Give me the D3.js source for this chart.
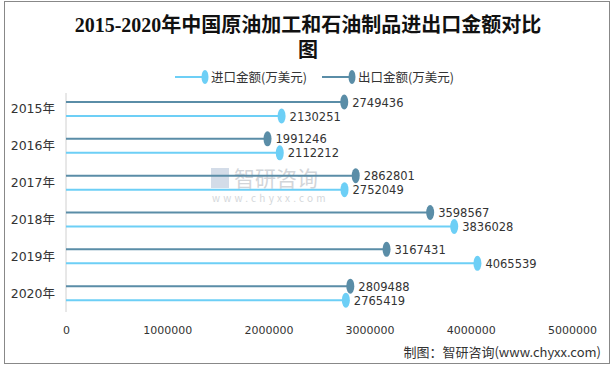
<!DOCTYPE html>
<html>
<head>
<meta charset="utf-8">
<script src="https://cdn.jsdelivr.net/npm/d3@7"></script>
<style>
  body { margin: 0; background: #fff; }
  svg { display: block; }
</style>
</head>
<body>
<script>
var years = ["2015年", "2016年", "2017年", "2018年", "2019年", "2020年"];
var exportVals = [2749436, 1991246, 2862801, 3598567, 3167431, 2809488];
var importVals = [2130251, 2112212, 2752049, 3836028, 4065539, 2765419];
var ticks = [0, 1000000, 2000000, 3000000, 4000000, 5000000];

var w = 615, h = 370;
var margin = { top: 91, bottom: 58, left: 66, right: 43 };

var expColor = "#5a8da7", impColor = "#6dcff6";

var svg = d3.select("body").append("svg").attr("width", w).attr("height", h);

svg.append("rect").attr("x", 4.5).attr("y", 1.5).attr("width", 605).attr("height", 362)
  .attr("fill", "#fff").attr("stroke", "#888").attr("stroke-width", 1);

// titulo
var title = svg.append("text").attr("text-anchor", "middle")
  .attr("font-family", "'Liberation Serif', 'Noto Sans CJK SC', serif")
  .attr("font-weight", "bold").attr("font-size", 20).attr("fill", "#111");
title.append("tspan").attr("x", 308).attr("y", 32).text("2015-2020年中国原油加工和石油制品进出口金额对比");
title.append("tspan").attr("x", 308).attr("y", 57).text("图");

var x = d3.scaleLinear().domain([0, 5000000]).range([margin.left, w - margin.right]);
var y = d3.scaleBand().domain(years).range([margin.top, h - margin.bottom]);

// marca de agua
var wm = svg.append("g").attr("font-family", "'Noto Sans CJK SC', sans-serif");
wm.append("rect").attr("x", 211).attr("y", 168).attr("width", 18).attr("height", 20).attr("fill", "#d3dce8");
wm.append("text").attr("x", 234).attr("y", 186).attr("font-size", 21).attr("fill", "#d2d5d9").text("智研咨询");
wm.append("text").attr("x", 212).attr("y", 202).attr("font-size", 10).attr("letter-spacing", 3.2)
  .attr("fill", "#d5d8db").text("www.chyxx.com");

// eje vertical
svg.append("line").attr("x1", x(0)).attr("x2", x(0)).attr("y1", margin.top + 2).attr("y2", h - margin.bottom)
  .attr("stroke", "#d0d0d0").attr("stroke-width", 1);

// eje x (solo etiquetas)
var xAxis = svg.append("g").attr("transform", "translate(0," + (h - margin.bottom) + ")")
  .call(d3.axisBottom(x).tickValues(ticks).tickSize(0).tickPadding(14).tickFormat(d3.format("d")));
xAxis.select(".domain").remove();
xAxis.selectAll("text").attr("font-family", "'DejaVu Sans', sans-serif").attr("font-size", 11).attr("fill", "#333");

// etiquetas de categoria
svg.selectAll(".cat").data(years).enter().append("text")
  .attr("x", 55).attr("y", function (d) { return y(d) + y.bandwidth() / 2 + 4; })
  .attr("text-anchor", "end").attr("font-family", "'DejaVu Sans', 'Noto Sans CJK SC', sans-serif")
  .attr("font-size", 12.5).attr("fill", "#333").text(function (d) { return d; });

function serie(vals, off, color) {
  var g = svg.append("g");
  g.selectAll("line").data(vals).enter().append("line")
    .attr("x1", x(0)).attr("x2", function (d) { return x(d); })
    .attr("y1", function (d, i) { return y(years[i]) + off; })
    .attr("y2", function (d, i) { return y(years[i]) + off; })
    .attr("stroke", color).attr("stroke-width", 2);
  g.selectAll("ellipse").data(vals).enter().append("ellipse")
    .attr("cx", function (d) { return x(d); })
    .attr("cy", function (d, i) { return y(years[i]) + off; })
    .attr("rx", 4).attr("ry", 7.5).attr("fill", color);
  g.selectAll("text").data(vals).enter().append("text")
    .attr("x", function (d) { return x(d) + 8; })
    .attr("y", function (d, i) { return y(years[i]) + off + 4.5; })
    .attr("font-family", "'DejaVu Sans', sans-serif").attr("font-size", 11.5).attr("fill", "#333")
    .text(function (d) { return d; });
}
serie(exportVals, 11, expColor);
serie(importVals, 25, impColor);

// leyenda
function leyenda(x0, color, label) {
  svg.append("line").attr("x1", x0).attr("x2", x0 + 30).attr("y1", 77).attr("y2", 77)
    .attr("stroke", color).attr("stroke-width", 2);
  svg.append("ellipse").attr("cx", x0 + 30).attr("cy", 77).attr("rx", 3.5).attr("ry", 7).attr("fill", color);
  svg.append("text").attr("x", x0 + 36).attr("y", 81.5).attr("font-family", "'Noto Sans CJK SC', sans-serif")
    .attr("font-size", 12.5).attr("fill", "#333").text(label);
}
leyenda(175, impColor, "进口金额(万美元)");
leyenda(322, expColor, "出口金额(万美元)");

// fuente
svg.append("text").attr("x", 601).attr("y", 357).attr("text-anchor", "end")
  .attr("font-family", "'Noto Sans CJK SC', sans-serif").attr("font-size", 13).attr("fill", "#333")
  .text("制图：智研咨询(www.chyxx.com)");
</script>
</body>
</html>
